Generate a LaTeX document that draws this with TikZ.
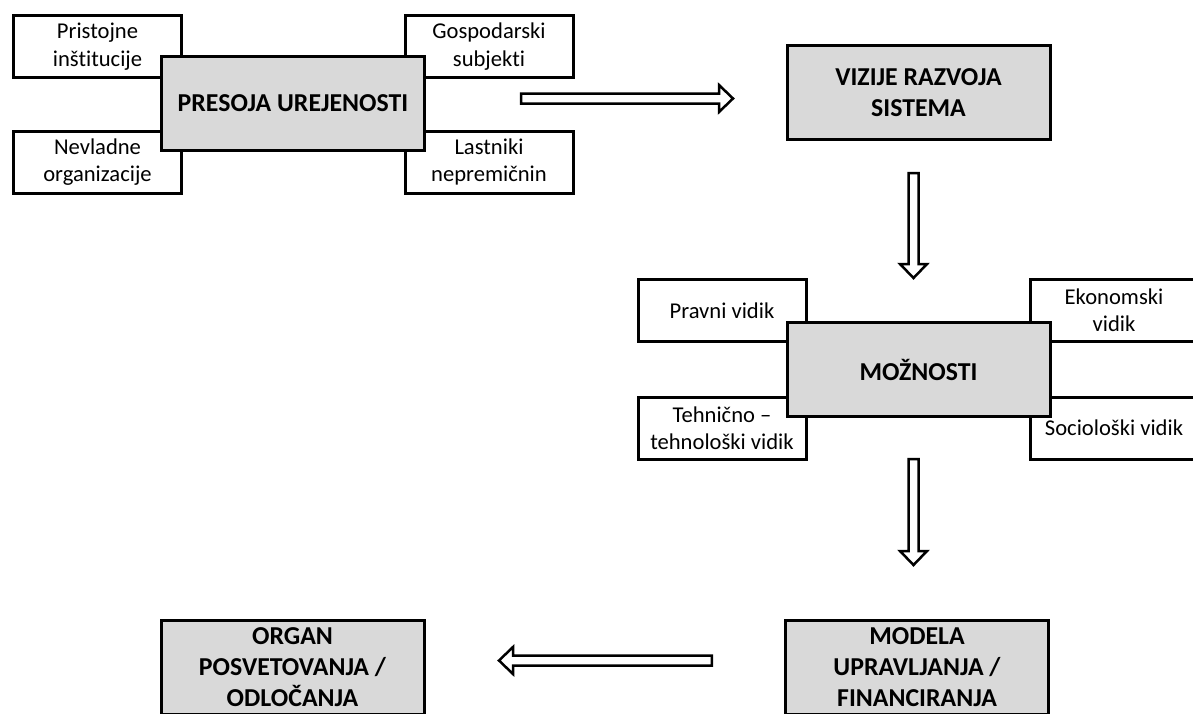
\documentclass[tikz,border=0pt]{standalone}
\usepackage{fontspec}
\setmainfont{Carlito}[Ligatures=NoCommon]
\usetikzlibrary{calc}
\definecolor{boxgray}{HTML}{D9D9D9}
\tikzset{
  side/.style={draw, line width=1.5pt, fill=white, minimum width=84pt, minimum height=31pt,
    align=center, inner sep=1pt, font=\fontsize{11.3}{13.7}\selectfont},
  main/.style={draw, line width=1.5pt, fill=boxgray, minimum width=131.5pt, minimum height=47pt,
    align=center, inner sep=1pt, font=\bfseries\fontsize{12.9}{15.6}\selectfont},
  barrow/.style={draw, line width=1.25pt, fill=white, line join=miter}
}
\newcommand{\blockarrow}[2]{%
  \draw[barrow] ($(#1)!2.5pt!90:(#2)$) -- ($(#2)!7pt!(#1)!2.5pt!-90:(#1)$)
    -- ($(#2)!7pt!(#1)!6.75pt!-90:(#1)$) -- (#2)
    -- ($(#2)!7pt!(#1)!6.75pt!90:(#1)$) -- ($(#2)!7pt!(#1)!2.5pt!90:(#1)$)
    -- ($(#1)!2.5pt!-90:(#2)$) -- cycle;}

\begin{document}
\begin{tikzpicture}[x=0.5pt, y=-0.5pt]
\useasboundingbox (0,0) rectangle (1193,713);
\foreach \name/\x/\y/\txt in {
    pristojne/97.5/46.5/{Pristojne\\inštitucije},
    nevladne/97.5/162/{Nevladne\\organizacije},
    gospodarski/489/46.5/{Gospodarski\\subjekti},
    lastniki/489/162/{Lastniki\\nepremičnin},
    pravni/722/310.5/{Pravni vidik},
    tehnicno/722/428/{Tehnično –\\tehnološki vidik},
    ekonomski/1114/310.5/{Ekonomski\\vidik},
    socioloski/1114/428/{Sociološki vidik}} {
  \node[side] (\name) at (\x,\y) {\txt};
}
\node[main] (presoja) at (293,103.5) {PRESOJA UREJENOSTI};
\node[main] (vizije) at (918.5,92.5) {VIZIJE RAZVOJA\\SISTEMA};
\node[main] (moznosti) at (918.5,369.5) {MOŽNOSTI};
\node[main] (modela) at (917,667) {MODELA\\UPRAVLJANJA /\\FINANCIRANJA};
\node[main] (organ) at (292.5,667) {ORGAN\\POSVETOVANJA /\\ODLOČANJA};
\coordinate (a1s) at (521.2,98.5);
\coordinate (a1e) at (733,98.5);
\coordinate (a2s) at (913.5,173.2);
\coordinate (a2e) at (913.5,278);
\coordinate (a3s) at (913.5,459.2);
\coordinate (a3e) at (913.5,565);
\coordinate (a4s) at (711.8,660.5);
\coordinate (a4e) at (499,660.5);
\blockarrow{a1s}{a1e}
\blockarrow{a2s}{a2e}
\blockarrow{a3s}{a3e}
\blockarrow{a4s}{a4e}
\end{tikzpicture}
\end{document}
